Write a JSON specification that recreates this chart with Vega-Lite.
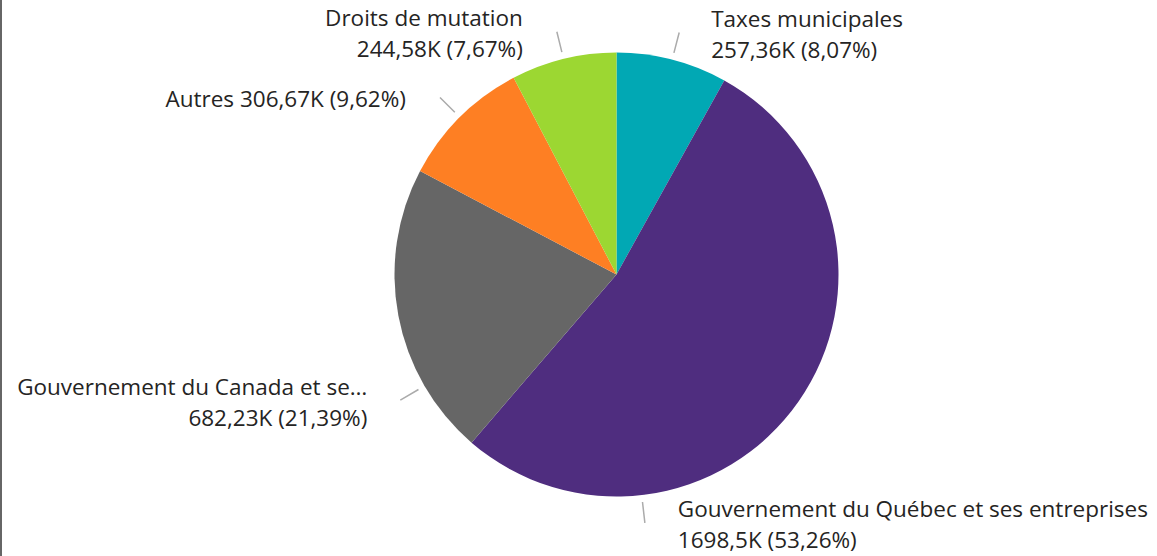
{
  "$schema": "https://vega.github.io/schema/vega-lite/v6.json",
  "width": 1231,
  "height": 589,
  "autosize": "none",
  "padding": {"left": 1, "right": -75, "top": -20, "bottom": -13},
  "background": "white",
  "view": {"stroke": "#666666", "strokeWidth": 2},
  "config": {"view": {"stroke": "#666666", "strokeWidth": 2}, "style": {"cell": {"stroke": "#666666", "strokeWidth": 2}}},
  "data": {"values": [
    {"categorie": "Taxes municipales", "valeur": 257360, "ordre": 1, "etiquette": "Taxes municipales\n257,36K (8,07%)"},
    {"categorie": "Gouvernement du Québec et ses entreprises", "valeur": 1698500, "ordre": 2, "etiquette": "Gouvernement du Québec et ses entreprises\n1698,5K (53,26%)"},
    {"categorie": "Gouvernement du Canada et ses entreprises", "valeur": 682230, "ordre": 3, "etiquette": "Gouvernement du Canada et se…\n682,23K (21,39%)"},
    {"categorie": "Autres", "valeur": 306670, "ordre": 4, "etiquette": "Autres 306,67K (9,62%)"},
    {"categorie": "Droits de mutation", "valeur": 244580, "ordre": 5, "etiquette": "Droits de mutation\n244,58K (7,67%)"}
  ]},
  "encoding": {
    "theta": {"field": "valeur", "type": "quantitative", "stack": true},
    "order": {"field": "ordre", "type": "quantitative"}
  },
  "layer": [
    {
      "mark": {"type": "arc", "outerRadius": 222},
      "encoding": {
        "color": {
          "field": "categorie", "type": "nominal", "legend": null,
          "scale": {
            "domain": ["Taxes municipales", "Gouvernement du Québec et ses entreprises", "Gouvernement du Canada et ses entreprises", "Autres", "Droits de mutation"],
            "range": ["#01A8B4", "#4F2D7F", "#666666", "#FE7F23", "#9CD732"]
          }
        }
      }
    },
    {
      "mark": {"type": "arc", "innerRadius": 229, "outerRadius": 250, "padAngle": 3, "filled": false, "stroke": "#ABABAB", "strokeWidth": 1.5},
      "encoding": {
        "strokeOpacity": {"condition": {"test": "indexof(['Taxes municipales','Autres','Droits de mutation'], datum.categorie) >= 0", "value": 1}, "value": 0}
      }
    },
    {
      "mark": {"type": "arc", "innerRadius": 229, "outerRadius": 250, "padAngle": 3, "filled": false, "stroke": "#ABABAB", "strokeWidth": 1.5, "thetaOffset": -0.339},
      "encoding": {
        "strokeOpacity": {"condition": {"test": "datum.categorie == 'Gouvernement du Canada et ses entreprises'", "value": 1}, "value": 0}
      }
    },
    {
      "transform": [
        {"stack": "valeur", "groupby": [], "sort": [{"field": "ordre", "order": "ascending"}], "as": ["debut", "fin"]},
        {"filter": "datum.categorie == 'Gouvernement du Québec et ses entreprises'"}
      ],
      "mark": {"type": "arc", "innerRadius": 229, "outerRadius": 250, "padAngle": 3, "filled": false, "stroke": "#ABABAB", "strokeWidth": 1.5, "thetaOffset": 1.0, "theta2Offset": 0.6955},
      "encoding": {
        "theta": {"field": "debut", "type": "quantitative", "stack": null},
        "theta2": {"field": "fin"}
      }
    },
    {
      "mark": {"type": "text", "radius": 250, "dx": 32, "dy": -12.5, "align": "left", "baseline": "middle", "lineBreak": "\n", "lineHeight": 31, "font": "Open Sans", "fontSize": 22.5, "color": "#252423"},
      "encoding": {
        "text": {"condition": {"test": "datum.categorie == 'Taxes municipales'", "field": "etiquette"}, "value": ""}
      }
    },
    {
      "mark": {"type": "text", "radius": 250, "dx": 33, "dy": -12.5, "align": "left", "baseline": "middle", "lineBreak": "\n", "lineHeight": 31, "font": "Open Sans", "fontSize": 22.5, "color": "#252423", "thetaOffset": 0.848},
      "encoding": {
        "text": {"condition": {"test": "datum.categorie == 'Gouvernement du Québec et ses entreprises'", "field": "etiquette"}, "value": ""}
      }
    },
    {
      "mark": {"type": "text", "radius": 250, "dx": -33, "dy": -12.5, "align": "right", "baseline": "middle", "lineBreak": "\n", "lineHeight": 31, "font": "Open Sans", "fontSize": 22.5, "color": "#252423", "thetaOffset": -0.339},
      "encoding": {
        "text": {"condition": {"test": "datum.categorie == 'Gouvernement du Canada et ses entreprises'", "field": "etiquette"}, "value": ""}
      }
    },
    {
      "mark": {"type": "text", "radius": 250, "dx": -34, "dy": 3, "align": "right", "baseline": "middle", "font": "Open Sans", "fontSize": 22.5, "color": "#252423"},
      "encoding": {
        "text": {"condition": {"test": "datum.categorie == 'Autres'", "field": "etiquette"}, "value": ""}
      }
    },
    {
      "mark": {"type": "text", "radius": 250, "dx": -34, "dy": -12.5, "align": "right", "baseline": "middle", "lineBreak": "\n", "lineHeight": 31, "font": "Open Sans", "fontSize": 22.5, "color": "#252423"},
      "encoding": {
        "text": {"condition": {"test": "datum.categorie == 'Droits de mutation'", "field": "etiquette"}, "value": ""}
      }
    }
  ]
}
